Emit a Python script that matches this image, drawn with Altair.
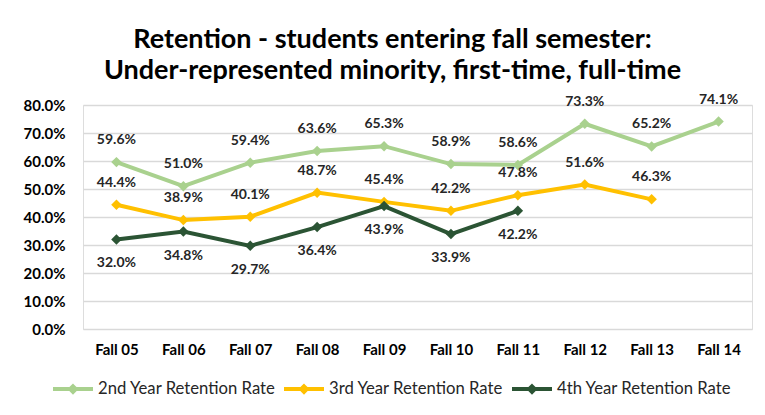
import altair as alt
import pandas as pd

terms = ["Fall 05", "Fall 06", "Fall 07", "Fall 08", "Fall 09",
         "Fall 10", "Fall 11", "Fall 12", "Fall 13", "Fall 14"]
second_year = [59.6, 51.0, 59.4, 63.6, 65.3, 58.9, 58.6, 73.3, 65.2, 74.1]
third_year = [44.4, 38.9, 40.1, 48.7, 45.4, 42.2, 47.8, 51.6, 46.3, None]
fourth_year = [32.0, 34.8, 29.7, 36.4, 43.9, 33.9, 42.2, None, None, None]

series_names = ["2nd Year Retention Rate", "3rd Year Retention Rate", "4th Year Retention Rate"]
series_colors = ["#A9D18E", "#FFC000", "#2B5434"]

rows = []
for name, vals in zip(series_names, [second_year, third_year, fourth_year]):
    for t, v in zip(terms, vals):
        if v is not None:
            rows.append({"term": t, "series": name, "value": v / 100.0})
df = pd.DataFrame(rows)

FONT = "Lato"

x = alt.X("term:N", sort=terms, title=None,
          scale=alt.Scale(paddingInner=0, paddingOuter=0),
          axis=alt.Axis(labelAngle=0, labelFont=FONT, labelFontSize=15, labelFontWeight="bold",
                        labelColor="#000000", labelPadding=13, ticks=False, domain=False, grid=False))
y = alt.Y("value:Q", title=None,
          scale=alt.Scale(domain=[0, 0.8], nice=False),
          axis=alt.Axis(format=".1%", values=[0, 0.1, 0.2, 0.3, 0.4, 0.5, 0.6, 0.7, 0.8],
                        labelFont=FONT, labelFontSize=15, labelFontWeight="bold",
                        labelColor="#000000", labelPadding=18, ticks=False, domain=False,
                        grid=True, gridColor="#D9D9D9", gridWidth=1.5))
color = alt.Color("series:N", title=None,
                  scale=alt.Scale(domain=series_names, range=series_colors),
                  legend=alt.Legend(orient="none", legendX=-32, legendY=262, direction="horizontal",
                                    symbolType="M-1,0L1,0M0,-0.14L0.14,0L0,0.14L-0.14,0Z",
                                    symbolSize=1600, symbolStrokeWidth=4, labelFont=FONT,
                                    labelFontSize=16.7, labelColor="#262626", labelOffset=3,
                                    labelLimit=0, columnPadding=0, symbolOpacity=1))

base = alt.Chart(df)
lines = base.mark_line(strokeWidth=4).encode(x=x, y=y, color=color, detail="series:N")
points = base.mark_point(shape="diamond", filled=True, size=110, opacity=1).encode(x=x, y=y, color=color)

text_above = base.transform_filter(
    alt.FieldOneOfPredicate(field="series", oneOf=series_names[:2])
).mark_text(dy=-22, font=FONT, fontSize=14, fontWeight="bold", color="#262626").encode(
    x=x, y=y, text=alt.Text("value:Q", format=".1%"))
text_below = base.transform_filter(
    alt.FieldEqualPredicate(field="series", equal=series_names[2])
).mark_text(dy=24, font=FONT, fontSize=14, fontWeight="bold", color="#262626").encode(
    x=x, y=y, text=alt.Text("value:Q", format=".1%"))

chart = alt.layer(lines, points, text_above, text_below).properties(
    width=669, height=224,
    autosize=alt.AutoSizeParams(type="none"),
    padding={"left": 75, "top": 97, "right": 5, "bottom": 78},
    title=alt.TitleParams(
        text=["Retention - students entering fall semester:",
              "Under-represented minority, first-time, full-time"],
        font=FONT, fontSize=27, fontWeight="bold", color="#000000",
        anchor="middle", dx=-25, offset=8, lineHeight=31),
).configure_view(stroke=None).configure(background="white")

chart.save("out.html", embed_options={"renderer": "svg", "actions": False})
